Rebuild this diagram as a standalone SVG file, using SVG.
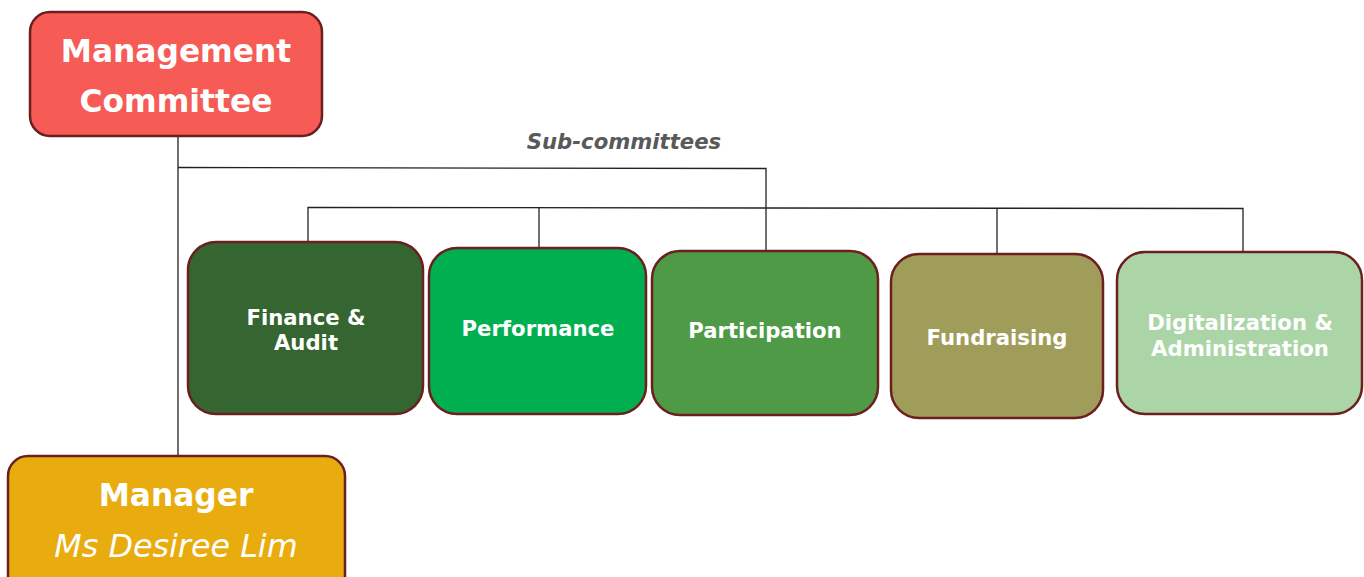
<svg xmlns="http://www.w3.org/2000/svg" width="1364" height="577" viewBox="0 0 1364 577">
<style>
.box{stroke:#6B1F1F;stroke-width:2.5}
.t{font-family:"DejaVu Sans","Liberation Sans",sans-serif;font-weight:bold;fill:#ffffff;text-anchor:middle}
.big{font-size:31.3px}
.sm{font-size:21.2px}
.conn line,.conn polyline{stroke:#222;stroke-width:1.3;fill:none}
</style>
<rect width="1364" height="577" fill="#ffffff"/>
<g class="conn" id="connectors">
<polyline points="178,136 178,456"/>
<polyline points="178,167.5 766,168.5 766,251"/>
<polyline points="308,242 308,207.5 1243,208.5 1243,252"/>
<line x1="539" y1="208" x2="539" y2="248"/>
<line x1="997" y1="208" x2="997" y2="254"/>
</g>
<text x="624" y="149" font-family="DejaVu Sans, Liberation Sans, sans-serif" font-weight="bold" font-style="italic" font-size="21.2" fill="#595959" text-anchor="middle">Sub-committees</text>
<g id="management-committee">
<rect class="box" x="30" y="12" width="292" height="124" rx="20" fill="#F65B56"/>
<text class="t big" x="176" y="62">Management</text>
<text class="t big" x="176" y="112">Committee</text>
</g>
<g id="finance-audit">
<rect class="box" x="188" y="242" width="235" height="172" rx="28" fill="#356530"/>
<text class="t sm" x="306" y="325">Finance &amp;</text>
<text class="t sm" x="306" y="350">Audit</text>
</g>
<g id="performance">
<rect class="box" x="429" y="248" width="217" height="166" rx="28" fill="#00AF50"/>
<text class="t sm" x="538" y="336">Performance</text>
</g>
<g id="participation">
<rect class="box" x="652" y="251" width="226" height="164" rx="28" fill="#4E9A47"/>
<text class="t sm" x="765" y="338">Participation</text>
</g>
<g id="fundraising">
<rect class="box" x="891" y="254" width="212" height="164" rx="28" fill="#A09D5B"/>
<text class="t sm" x="997" y="345">Fundraising</text>
</g>
<g id="digitalization-administration">
<rect class="box" x="1117" y="252" width="245" height="162" rx="28" fill="#ABD5A7"/>
<text class="t sm" x="1240" y="330">Digitalization &amp;</text>
<text class="t sm" x="1240" y="356">Administration</text>
</g>
<g id="manager">
<rect class="box" x="8" y="456" width="337" height="140" rx="20" fill="#E8AC0E"/>
<text class="t big" x="176" y="506">Manager</text>
<text x="176" y="557" font-family="DejaVu Sans, Liberation Sans, sans-serif" font-style="italic" font-size="31.8" fill="#ffffff" text-anchor="middle">Ms Desiree Lim</text>
</g>
</svg>
